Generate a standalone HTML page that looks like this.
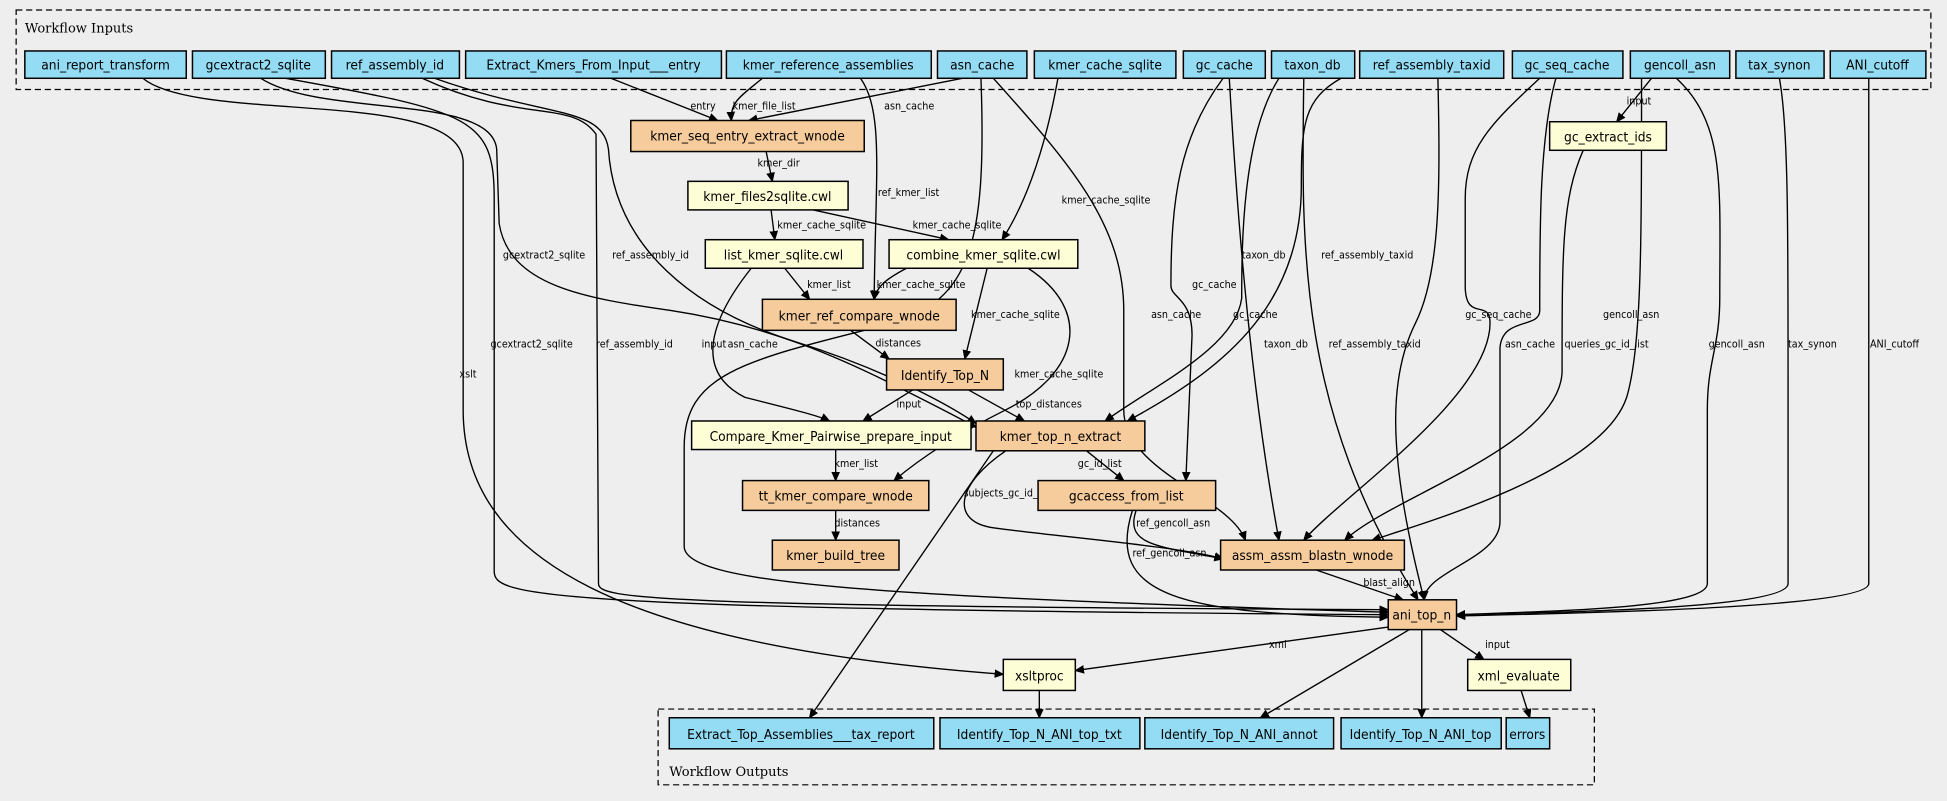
<!DOCTYPE html>
<html><head><meta charset="utf-8"><style>
html,body{margin:0;padding:0;background:#eeeeee;}
svg{display:block;}
text{font-family:"DejaVu Sans Condensed","Liberation Sans Narrow","DejaVu Sans",sans-serif;}
.n{font-size:11px;text-anchor:middle;}
.l{font-size:8.6px;}
.e{fill:none;stroke:#000;stroke-width:1.1;marker-end:url(#a);}
.i{fill:#94dcf4;stroke:#000;stroke-width:1.2;}
.o{fill:#f6cc9c;stroke:#000;stroke-width:1.2;}
.y{fill:#fdfdd6;stroke:#000;stroke-width:1.2;}
</style></head><body>
<svg width="1947" height="801" viewBox="0 0 1568 645" xmlns="http://www.w3.org/2000/svg">
<defs><marker id="a" markerWidth="8" markerHeight="8" refX="7" refY="4" orient="auto" markerUnits="userSpaceOnUse"><path d="M0,0.5 L8,4 L0,7.5 z" fill="#000"/></marker></defs>
<rect width="1568" height="645" fill="#eeeeee"/>
<rect x="13" y="8" width="1542" height="64" fill="none" stroke="#000" stroke-dasharray="5,3"/>
<text x="20" y="26" style="font-family:'DejaVu Serif','Liberation Serif',serif;font-size:10.5px">Workflow Inputs</text>
<rect x="530" y="571" width="754" height="61" fill="none" stroke="#000" stroke-dasharray="5,3"/>
<text x="539" y="625" style="font-family:'DejaVu Serif','Liberation Serif',serif;font-size:10.5px">Workflow Outputs</text>

<g>
<path class="e" d="M492,63 L578,97"/>
<path class="e" d="M614,63 C596,78 588,82 589,97"/>
<path class="e" d="M775,63 L603,97"/>
<path class="e" d="M617,122 L622,146"/>
<path class="e" d="M621,169 L624,193"/>
<path class="e" d="M655,169 L764,193"/>
<path class="e" d="M852,63 C840,130 822,170 807,193"/>
<path class="e" d="M693,63 C712,90 705,140 704,241"/>
<path class="e" d="M632,216 L652,241"/>
<path class="e" d="M730,216 C715,224 706,230 704,241"/>
<path class="e" d="M795,216 L777,289"/>
<path class="e" d="M828,216 C880,250 870,300 810,330 C770,350 740,370 720,387"/>
<path class="e" d="M685,266 L716,289"/>
<path class="e" d="M735,314 L695,339"/>
<path class="e" d="M780,314 L825,339"/>
<path class="e" d="M605,216 C570,260 560,300 600,320 C640,330 660,335 668,339"/>
<path class="e" d="M790,63 C795,200 780,240 720,260 C600,290 551,300 551,360 L551,440 C551,470 700,480 1118,493"/>
<path class="e" d="M800,63 C860,130 905,180 905,250 L905,330 C905,380 990,400 1003,435"/>
<path class="e" d="M985,63 C950,110 943,160 943,230 C943,240 960,240 960,270 L955,387"/>
<path class="e" d="M990,63 C995,150 1005,300 1030,435"/>
<path class="e" d="M1030,63 C1000,110 1000,200 1000,240 C995,280 930,310 890,339"/>
<path class="e" d="M1050,63 C1048,200 1045,330 1142,483"/>
<path class="e" d="M1080,63 C1050,80 1048,100 1048,150 C1048,250 980,300 908,339"/>
<path class="e" d="M1158,63 C1160,150 1160,220 1140,260 C1120,300 1115,360 1147,483"/>
<path class="e" d="M1240,63 C1200,100 1180,120 1180,160 L1180,230 C1180,260 1200,240 1200,260 C1200,320 1080,400 1050,435"/>
<path class="e" d="M1253,63 C1240,110 1240,180 1240,250 C1240,265 1210,255 1208,280 L1208,420 C1208,450 1147,460 1147,483"/>
<path class="e" d="M1275,121 C1258,160 1258,200 1258,300 C1255,360 1120,400 1083,435"/>
<path class="e" d="M1330,63 L1302,98"/>
<path class="e" d="M1322,63 C1322,200 1322,280 1310,320 C1290,380 1150,420 1105,435"/>
<path class="e" d="M1350,63 C1390,100 1385,150 1385,240 C1385,280 1375,290 1375,330 L1375,470 C1375,490 1250,492 1173,495"/>
<path class="e" d="M1433,63 C1440,100 1440,180 1440,300 L1440,470 C1440,490 1260,493 1173,495"/>
<path class="e" d="M1505,63 L1505,470 C1505,490 1260,494 1173,496"/>
<path class="e" d="M115,63 C160,100 370,70 373,130 L373,330 C373,450 500,520 808,543"/>
<path class="e" d="M210,63 C260,95 395,75 400,120 L402,180 C410,230 470,240 540,250 C620,262 680,290 720,310 C760,330 775,338 786,344"/>
<path class="e" d="M230,63 C380,90 398,95 398,160 L398,460 C398,480 430,490 1118,495"/>
<path class="e" d="M340,63 C420,100 460,80 480,108 L482,470 C482,482 520,488 1118,491"/>
<path class="e" d="M350,63 C440,95 485,85 490,120 C495,200 560,250 640,275 C720,300 770,330 786,341"/>
<path class="e" d="M1118,505 L866,540"/>
<path class="e" d="M1135,507 L1015,578"/>
<path class="e" d="M1145,507 L1145,578"/>
<path class="e" d="M1160,507 L1195,531"/>
<path class="e" d="M1225,556 L1232,578"/>
<path class="e" d="M837,556 L837,578"/>
<path class="e" d="M800,363 L652,578"/>
<path class="e" d="M875,363 L905,387"/>
<path class="e" d="M810,363 C770,390 765,420 800,425 C850,432 950,440 985,450"/>
<path class="e" d="M915,411 C905,440 935,440 985,450"/>
<path class="e" d="M912,411 C890,480 950,495 1118,497"/>
<path class="e" d="M1060,459 L1130,483"/>
<path class="e" d="M673,362 L673,387"/>
<path class="e" d="M673,411 L673,435"/>
</g>

<g class="l">
<text x="556" y="88">entry</text><text x="590" y="88">kmer_file_list</text><text x="712" y="88">asn_cache</text>
<text x="610" y="134">kmer_dir</text><text x="707" y="158">ref_kmer_list</text><text x="855" y="164">kmer_cache_sqlite</text>
<text x="626" y="184">kmer_cache_sqlite</text><text x="735" y="184">kmer_cache_sqlite</text>
<text x="405" y="208">gcextract2_sqlite</text><text x="493" y="208">ref_assembly_id</text>
<text x="1000" y="208">taxon_db</text><text x="1064" y="208">ref_assembly_taxid</text>
<text x="650" y="232">kmer_list</text><text x="706" y="232">kmer_cache_sqlite</text><text x="960" y="232">gc_cache</text>
<text x="705" y="279">distances</text><text x="782" y="256">kmer_cache_sqlite</text>
<text x="395" y="280">gcextract2_sqlite</text><text x="480" y="280">ref_assembly_id</text><text x="565" y="280">input</text><text x="586" y="280">asn_cache</text>
<text x="927" y="256">asn_cache</text><text x="993" y="256">gc_cache</text><text x="1180" y="256">gc_seq_cache</text><text x="1291" y="256">gencoll_asn</text>
<text x="1018" y="280">taxon_db</text><text x="1070" y="280">ref_assembly_taxid</text><text x="1212" y="280">asn_cache</text><text x="1260" y="280">queries_gc_id_list</text>
<text x="1376" y="280">gencoll_asn</text><text x="1440" y="280">tax_synon</text><text x="1506" y="280">ANI_cutoff</text>
<text x="817" y="304">kmer_cache_sqlite</text><text x="370" y="304">xslt</text>
<text x="722" y="328">input</text><text x="818" y="328">top_distances</text>
<text x="672" y="376">kmer_list</text><text x="868" y="376">gc_id_list</text>
<text x="776" y="400">subjects_gc_id_list</text><text x="672" y="424">distances</text><text x="915" y="424">ref_gencoll_asn</text>
<text x="912" y="448">ref_gencoll_asn</text><text x="1098" y="472">blast_align</text>
<text x="1022" y="522">xml</text><text x="1196" y="522">input</text><text x="1310" y="84">input</text>
</g>

<g class="n">
<rect class="i" x="20" y="41" width="130" height="22"/><text x="85" y="56">ani_report_transform</text>
<rect class="i" x="155" y="41" width="107" height="22"/><text x="208" y="56">gcextract2_sqlite</text>
<rect class="i" x="267" y="41" width="103" height="22"/><text x="318" y="56">ref_assembly_id</text>
<rect class="i" x="375" y="41" width="206" height="22"/><text x="478" y="56">Extract_Kmers_From_Input___entry</text>
<rect class="i" x="585" y="41" width="165" height="22"/><text x="667" y="56">kmer_reference_assemblies</text>
<rect class="i" x="755" y="41" width="72" height="22"/><text x="791" y="56">asn_cache</text>
<rect class="i" x="833" y="41" width="114" height="22"/><text x="890" y="56">kmer_cache_sqlite</text>
<rect class="i" x="953" y="41" width="66" height="22"/><text x="986" y="56">gc_cache</text>
<rect class="i" x="1024" y="41" width="67" height="22"/><text x="1057" y="56">taxon_db</text>
<rect class="i" x="1095" y="41" width="116" height="22"/><text x="1153" y="56">ref_assembly_taxid</text>
<rect class="i" x="1218" y="41" width="89" height="22"/><text x="1262" y="56">gc_seq_cache</text>
<rect class="i" x="1313" y="41" width="80" height="22"/><text x="1353" y="56">gencoll_asn</text>
<rect class="i" x="1398" y="41" width="71" height="22"/><text x="1433" y="56">tax_synon</text>
<rect class="i" x="1474" y="41" width="77" height="22"/><text x="1512" y="56">ANI_cutoff</text>

<rect class="o" x="508" y="97" width="188" height="25"/><text x="602" y="113">kmer_seq_entry_extract_wnode</text>
<rect class="y" x="1248" y="98" width="94" height="23"/><text x="1295" y="114">gc_extract_ids</text>
<rect class="y" x="554" y="146" width="129" height="23"/><text x="618" y="162">kmer_files2sqlite.cwl</text>
<rect class="y" x="568" y="193" width="127" height="23"/><text x="631" y="209">list_kmer_sqlite.cwl</text>
<rect class="y" x="716" y="193" width="152" height="23"/><text x="792" y="209">combine_kmer_sqlite.cwl</text>
<rect class="o" x="614" y="241" width="156" height="25"/><text x="692" y="258">kmer_ref_compare_wnode</text>
<rect class="o" x="714" y="289" width="94" height="25"/><text x="761" y="306">Identify_Top_N</text>
<rect class="y" x="557" y="339" width="225" height="23"/><text x="669" y="355">Compare_Kmer_Pairwise_prepare_input</text>
<rect class="o" x="786" y="339" width="136" height="24"/><text x="854" y="355">kmer_top_n_extract</text>
<rect class="o" x="598" y="387" width="150" height="24"/><text x="673" y="403">tt_kmer_compare_wnode</text>
<rect class="o" x="836" y="387" width="143" height="24"/><text x="907" y="403">gcaccess_from_list</text>
<rect class="o" x="622" y="435" width="102" height="24"/><text x="673" y="451">kmer_build_tree</text>
<rect class="o" x="983" y="435" width="148" height="24"/><text x="1057" y="451">assm_assm_blastn_wnode</text>
<rect class="o" x="1118" y="483" width="55" height="24"/><text x="1145" y="499">ani_top_n</text>
<rect class="y" x="808" y="531" width="58" height="25"/><text x="837" y="548">xsltproc</text>
<rect class="y" x="1182" y="531" width="83" height="25"/><text x="1223" y="548">xml_evaluate</text>

<rect class="i" x="539" y="578" width="213" height="25"/><text x="645" y="595">Extract_Top_Assemblies___tax_report</text>
<rect class="i" x="757" y="578" width="161" height="25"/><text x="837" y="595">Identify_Top_N_ANI_top_txt</text>
<rect class="i" x="922" y="578" width="152" height="25"/><text x="998" y="595">Identify_Top_N_ANI_annot</text>
<rect class="i" x="1080" y="578" width="129" height="25"/><text x="1144" y="595">Identify_Top_N_ANI_top</text>
<rect class="i" x="1213" y="578" width="35" height="25"/><text x="1230" y="595">errors</text>
</g>
</svg>
</body></html>
